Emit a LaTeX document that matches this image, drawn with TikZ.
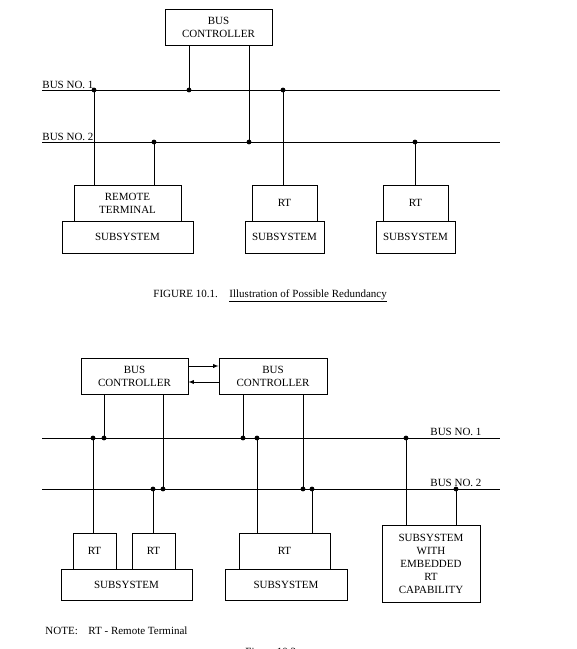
\documentclass[tikz,border=0pt]{standalone}
\usepackage{fontspec}
\setmainfont{Liberation Serif}
\usepackage{tikz}

\begin{document}
\begin{tikzpicture}[x=1pt,y=-1pt,line width=0.9pt]
      \tikzstyle{every node}+=[inner sep=0pt,font=\fontsize{11}{13}\selectfont]
      \tikzstyle{unit}=[draw,align=center]
      \tikzstyle{tap}=[circle,fill,minimum size=4.8pt]
      \tikzstyle{tag}=[anchor=base west]
      \useasboundingbox (0,0) rectangle (577,649);
      % figure 10.1
      \node [unit,minimum width=107pt,minimum height=36pt] (bc) at (218.5,27) {BUS\\CONTROLLER};
      \node [unit,minimum width=107pt,minimum height=36pt] (rt1) at (127.5,203) {REMOTE\\TERMINAL};
      \node [unit,minimum width=131pt,minimum height=32pt] (ss1) at (127.5,237) {SUBSYSTEM};
      \node [unit,minimum width=65pt,minimum height=36pt] (rt2) at (284.5,203) {RT};
      \node [unit,minimum width=79pt,minimum height=32pt] (ss2) at (284.5,237) {SUBSYSTEM};
      \node [unit,minimum width=65pt,minimum height=36pt] (rt3) at (415.5,203) {RT};
      \node [unit,minimum width=79pt,minimum height=32pt] (ss3) at (415.5,237) {SUBSYSTEM};
      \coordinate (bus1w) at (42,90);
      \coordinate (bus1e) at (500,90);
      \coordinate (bus2w) at (42,142);
      \coordinate (bus2e) at (500,142);
      \draw (bus1w) -- (bus1e);
      \draw (bus2w) -- (bus2e);
      \node [tag] (lbus1) at (42,88.5) {BUS NO. 1};
      \node [tag] (lbus2) at (42,140.5) {BUS NO. 2};
      \node [tap] (ta) at (94,90) {};
      \node [tap] (tb) at (189,90) {};
      \node [tap] (tc) at (283,90) {};
      \node [tap] (td) at (154,142) {};
      \node [tap] (te) at (249,142) {};
      \node [tap] (tf) at (415,142) {};
      \draw (tb.center) -- (tb.center |- bc.south);
      \draw (te.center) -- (te.center |- bc.south);
      \draw (ta.center) -- (ta.center |- rt1.north);
      \draw (td.center) -- (td.center |- rt1.north);
      \draw (tc.center) -- (tc.center |- rt2.north);
      \draw (tf.center) -- (tf.center |- rt3.north);
      \node [tag] (cap1) at (153,297) {FIGURE 10.1.};
      \node [tag] (cap1t) at (229,297) {\underline{Illustration of Possible Redundancy}};
      % figure 10.2
      \node [unit,minimum width=107pt,minimum height=36pt] (bca) at (134.5,376) {BUS\\CONTROLLER};
      \node [unit,minimum width=108pt,minimum height=36pt] (bcb) at (273,376) {BUS\\CONTROLLER};
      \draw [-latex] ([yshift=10pt]bca.east) -- ([yshift=10pt]bca.east -| bcb.west);
      \draw [-latex] ([yshift=-6pt]bcb.west) -- ([yshift=-6pt]bcb.west -| bca.east);
      \node [unit,minimum width=43pt,minimum height=36pt] (rta) at (94.5,551) {RT};
      \node [unit,minimum width=43pt,minimum height=36pt] (rtb) at (153.5,551) {RT};
      \node [unit,minimum width=131pt,minimum height=31pt] (ssa) at (126.5,584.5) {SUBSYSTEM};
      \node [unit,minimum width=91pt,minimum height=36pt] (rtc) at (284.5,551) {RT};
      \node [unit,minimum width=122pt,minimum height=31pt] (ssb) at (286,584.5) {SUBSYSTEM};
      \node [unit,minimum width=98pt,minimum height=77pt] (emb) at (431,563.5) {SUBSYSTEM\\WITH\\EMBEDDED\\RT\\CAPABILITY};
      \coordinate (bus3w) at (42,438);
      \coordinate (bus3e) at (500,438);
      \coordinate (bus4w) at (42,489);
      \coordinate (bus4e) at (500,489);
      \draw (bus3w) -- (bus3e);
      \draw (bus4w) -- (bus4e);
      \node [tag] (lbus3) at (430,435.5) {BUS NO. 1};
      \node [tag] (lbus4) at (430,486.5) {BUS NO. 2};
      \node [tap] (ua) at (93,438) {};
      \node [tap] (ub) at (104,438) {};
      \node [tap] (uc) at (243,438) {};
      \node [tap] (ud) at (257,438) {};
      \node [tap] (ue) at (406,438) {};
      \node [tap] (va) at (153,489) {};
      \node [tap] (vb) at (163,489) {};
      \node [tap] (vc) at (303,489) {};
      \node [tap] (vd) at (312,489) {};
      \node [tap] (ve) at (456,489) {};
      \draw (ub.center) -- (ub.center |- bca.south);
      \draw (vb.center) -- (vb.center |- bca.south);
      \draw (uc.center) -- (uc.center |- bcb.south);
      \draw (vc.center) -- (vc.center |- bcb.south);
      \draw (ua.center) -- (ua.center |- rta.north);
      \draw (va.center) -- (va.center |- rtb.north);
      \draw (ud.center) -- (ud.center |- rtc.north);
      \draw (vd.center) -- (vd.center |- rtc.north);
      \draw (ue.center) -- (ue.center |- emb.north);
      \draw (ve.center) -- (ve.center |- emb.north);
      \node [tag] (note) at (45,634) {NOTE:};
      \node [tag] (notet) at (88,634) {RT - Remote Terminal};
      \node [tag] (cap2) at (245,655) {Figure 10.2};
\end{tikzpicture}
\end{document}
